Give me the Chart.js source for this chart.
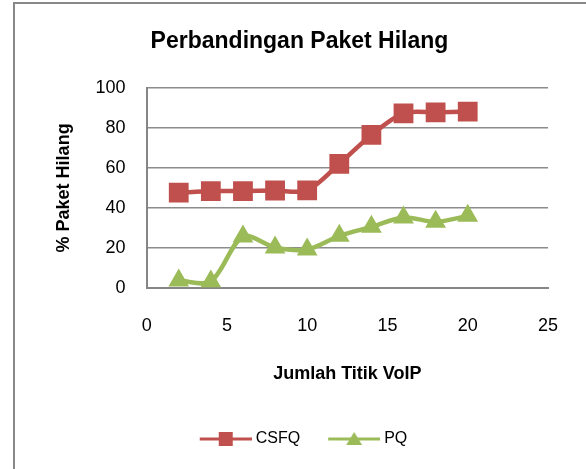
<!DOCTYPE html>
<html>
<head>
<meta charset="utf-8">
<script src="https://cdn.jsdelivr.net/npm/chart.js@4/dist/chart.umd.min.js"></script>
<style>
    html, body { margin: 0; padding: 0; background: #fff; }
    #wrap { position: relative; width: 586px; height: 469px; overflow: hidden; }
    #frame { position: absolute; left: 13px; top: 2px; width: 700px; height: 600px; border: 2px solid #888; box-sizing: border-box; }
    #chart { position: absolute; left: 0; top: 0; }
</style>
</head>
<body>
<div id="wrap">
    <div id="frame"></div>
    <canvas id="chart" width="586" height="469"></canvas>
</div>
<script>
var titik = [2, 4, 6, 8, 10, 12, 14, 16, 18, 20];
var csfq = [47.6, 48.4, 48.4, 48.7, 48.8, 62, 76.5, 87.3, 87.8, 88.2];
var pq = [3.6, 3.2, 25.7, 20.2, 19.2, 26, 30.5, 35.2, 33, 36];
var xTicks = [0, 5, 10, 15, 20, 25];
var yTicks = [0, 20, 40, 60, 80, 100];

var FONT = "'Liberation Sans', Arial, sans-serif";
var RED = '#C0504D';
var GREEN = '#9BBB59';

function pts(ys) {
    return titik.map(function(x, i) { return { x: x, y: ys[i] }; });
}

// legend icon: line with the marker in the middle, shifted right so the
// gap before the text is small and the gap between items is wider
function legendIcon(color, shape) {
    var c = document.createElement('canvas');
    c.width = 64; c.height = 20;
    var g = c.getContext('2d');
    g.strokeStyle = color;
    g.lineWidth = 3;
    g.beginPath(); g.moveTo(12, 10); g.lineTo(64, 10); g.stroke();
    g.fillStyle = color;
    if (shape === 'rect') {
        g.fillRect(31, 3, 14, 14);
    } else {
        g.beginPath(); g.moveTo(38, 3); g.lineTo(46, 16); g.lineTo(30, 16); g.closePath(); g.fill();
    }
    return c;
}
var icons = [legendIcon(RED, 'rect'), legendIcon(GREEN, 'tri')];

var ctx = document.getElementById('chart').getContext('2d');
var chart = new Chart(ctx, {
    type: 'line',
    data: {
        datasets: [{
            label: 'CSFQ',
            data: pts(csfq),
            borderColor: RED,
            backgroundColor: RED,
            borderWidth: 4.5,
            tension: 0.3,
            pointStyle: 'rect',
            pointRadius: 14,
            pointBorderWidth: 0,
            pointHoverRadius: 14
        }, {
            label: 'PQ',
            data: pts(pq),
            borderColor: GREEN,
            backgroundColor: GREEN,
            borderWidth: 4.5,
            tension: 0.3,
            pointStyle: 'triangle',
            pointRadius: 12,
            pointBorderWidth: 0,
            pointHoverRadius: 12
        }]
    },
    options: {
        responsive: false,
        animation: false,
        layout: { padding: { left: 51, right: 38, top: 0, bottom: 12 } },
        plugins: {
            title: {
                display: true,
                text: 'Perbandingan Paket Hilang',
                color: '#000',
                font: { family: FONT, size: 23, weight: 'bold' },
                padding: { top: 28, bottom: 32.4 }
            },
            legend: {
                position: 'bottom',
                labels: {
                    color: '#000',
                    font: { family: FONT, size: 16 },
                    usePointStyle: true,
                    pointStyleWidth: 56,
                    boxHeight: 16,
                    padding: 20,
                    generateLabels: function(ch) {
                        var items = Chart.defaults.plugins.legend.labels.generateLabels(ch);
                        items.forEach(function(it, i) { it.pointStyle = icons[i]; });
                        return items;
                    }
                }
            },
            tooltip: { enabled: false }
        },
        scales: {
            x: {
                type: 'linear',
                min: 0, max: 25,
                afterBuildTicks: function(s) { s.ticks = xTicks.map(function(v) { return { value: v }; }); },
                grid: { display: false, drawTicks: false },
                border: { display: true, color: '#868686', width: 2 },
                ticks: { color: '#000', font: { family: FONT, size: 18 }, padding: 27 },
                title: {
                    display: true,
                    text: 'Jumlah Titik VoIP',
                    color: '#000',
                    font: { family: FONT, size: 18, weight: 'bold' },
                    padding: { top: 0, bottom: 26 }
                }
            },
            y: {
                min: 0, max: 100,
                afterBuildTicks: function(s) { s.ticks = yTicks.map(function(v) { return { value: v }; }); },
                grid: { color: '#8c8c8c', lineWidth: 1.5, drawTicks: false },
                border: { display: true, color: '#868686', width: 2 },
                ticks: { color: '#000', font: { family: FONT, size: 18 }, padding: 21 },
                title: {
                    display: true,
                    text: '% Paket Hilang',
                    color: '#000',
                    font: { family: FONT, size: 18, weight: 'bold' },
                    padding: { top: 2, bottom: 0 }
                }
            }
        }
    }
});
</script>
</body>
</html>
